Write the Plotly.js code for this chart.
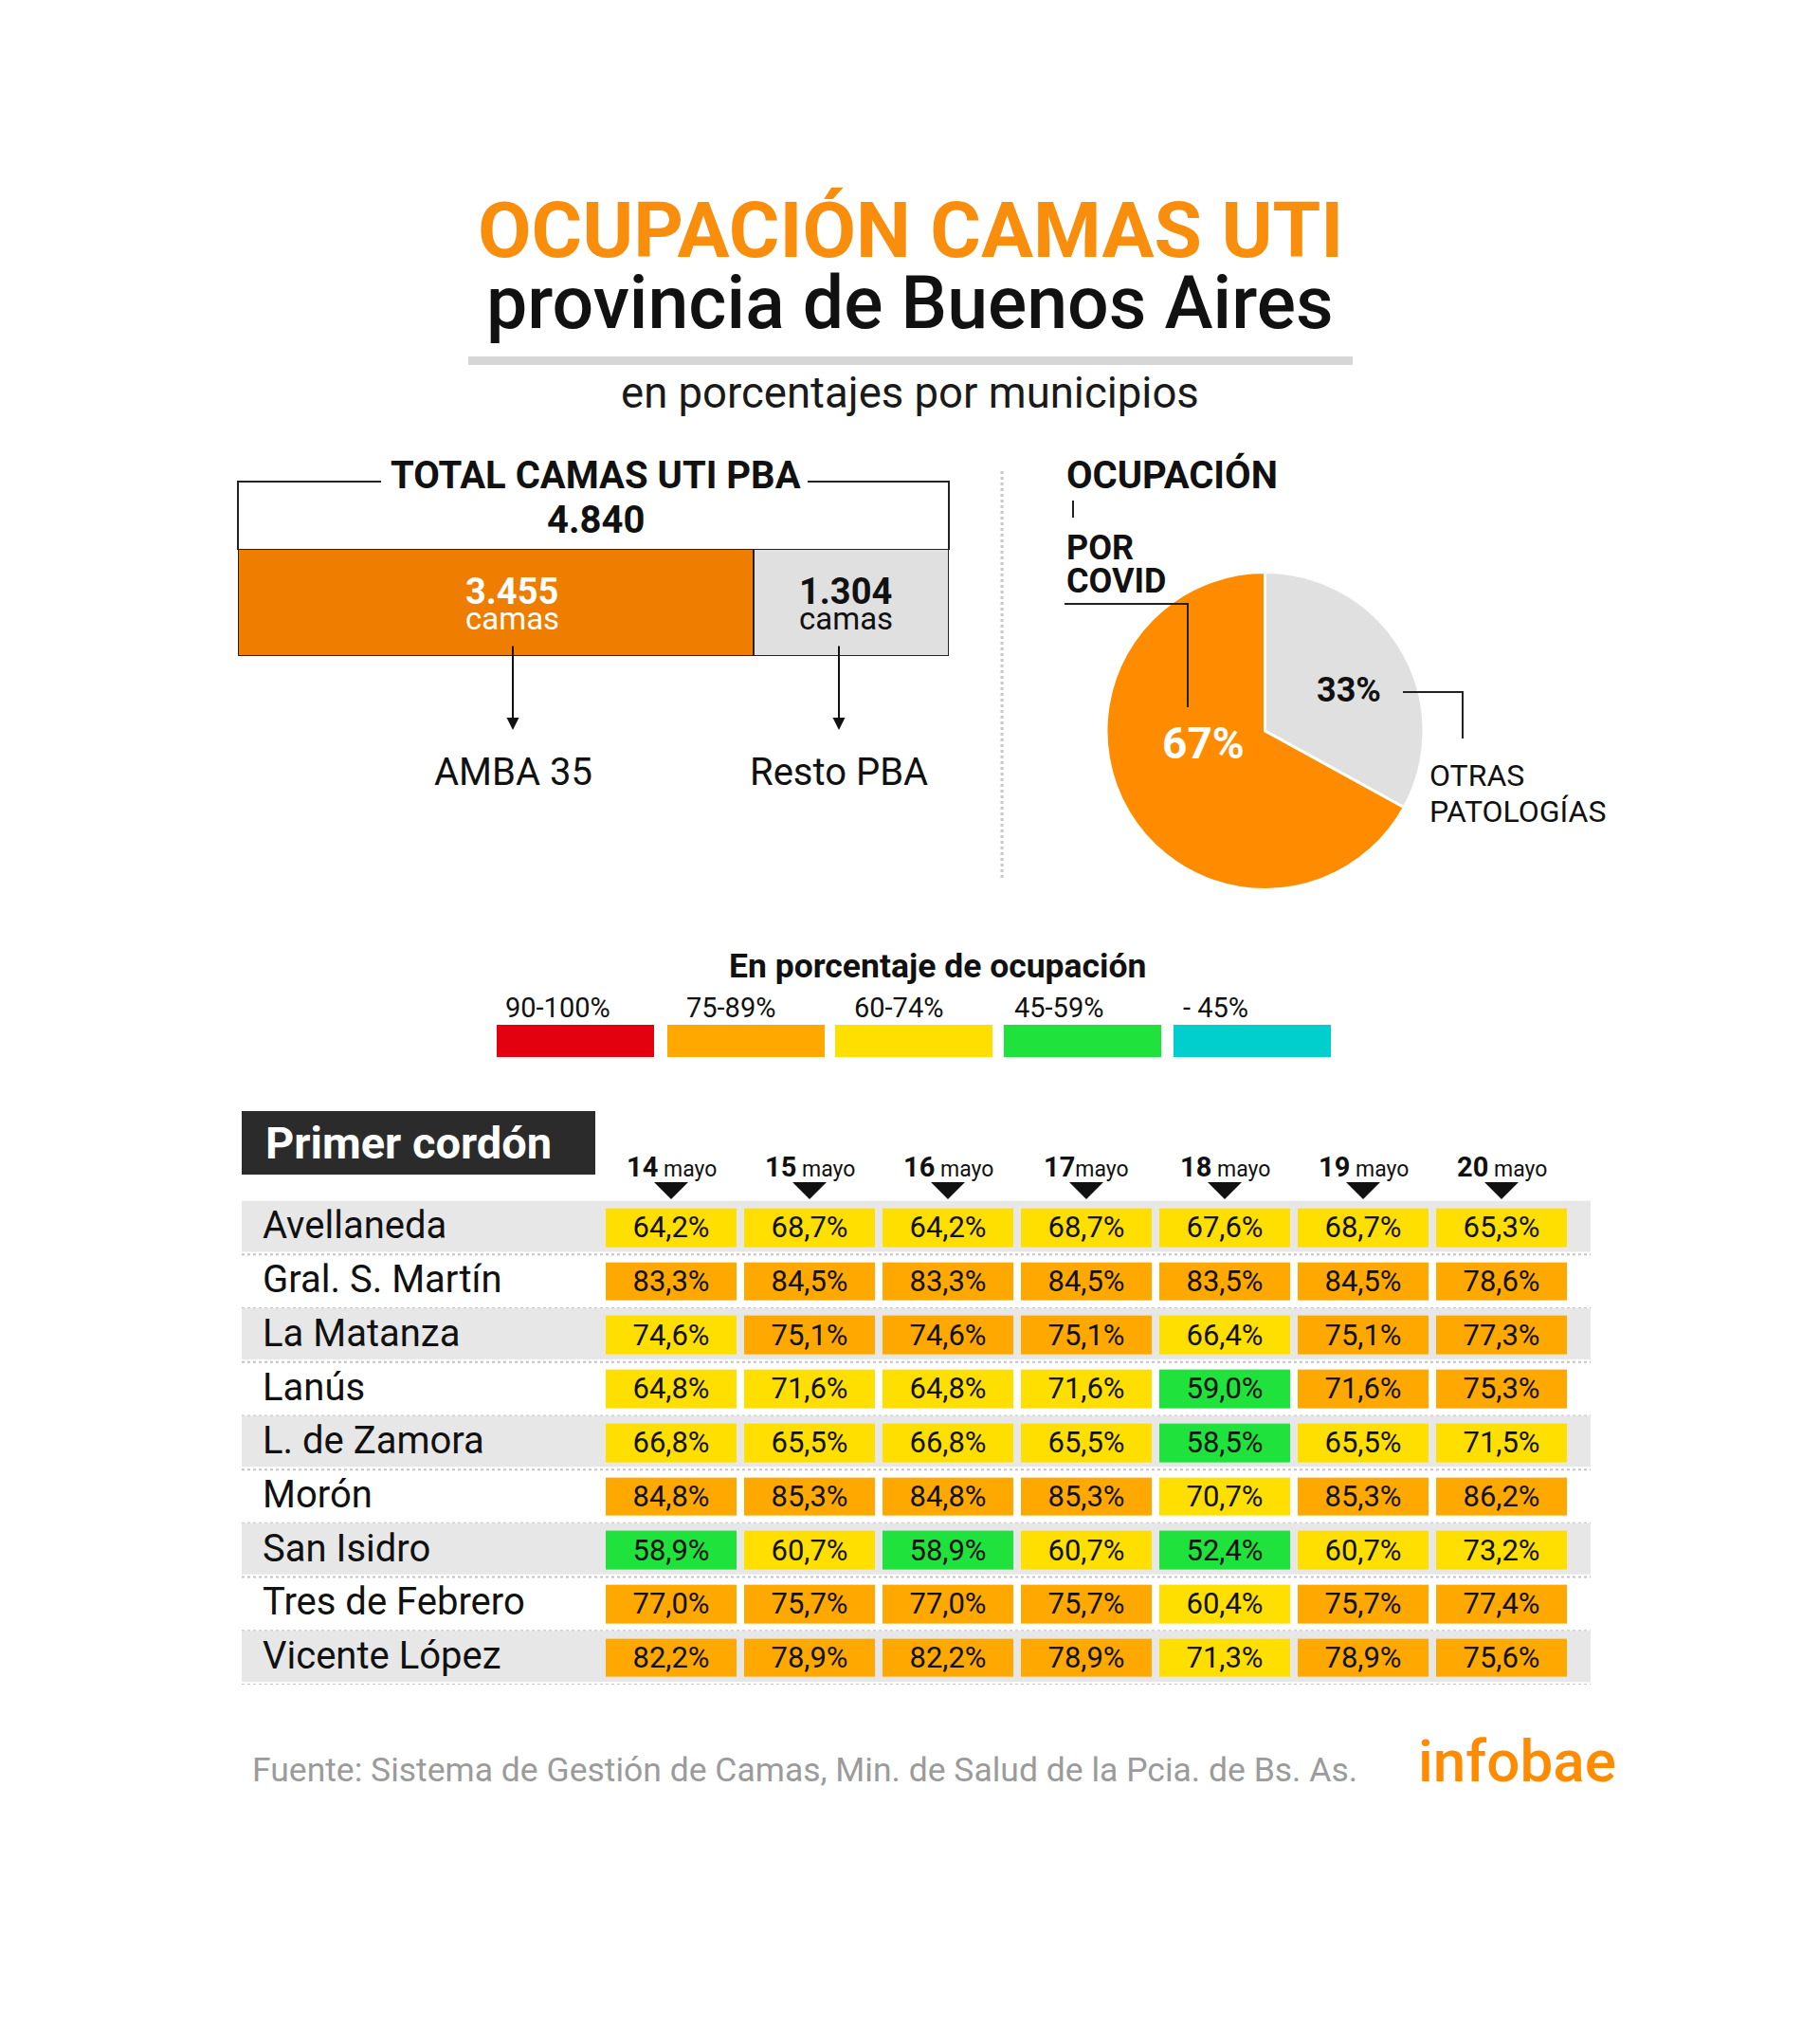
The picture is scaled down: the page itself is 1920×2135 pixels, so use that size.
<!DOCTYPE html>
<html>
<head>
<meta charset="utf-8">
<script src="https://cdn.plot.ly/plotly-3.0.1.min.js"></script>
<style>
  html, body { margin: 0; padding: 0; background: #ffffff; }
  #chart { width: 1920px; height: 2135px; }
</style>
</head>
<body>
<div id="chart"></div>
<script>
// ---------------- DATA ----------------
const titleLine1 = 'OCUPACIÓN CAMAS UTI';
const titleLine2 = 'provincia de Buenos Aires';
const subtitle = 'en porcentajes por municipios';

const totalBeds = 4840;
const barSegments = ['AMBA 35', 'Resto PBA'];
const barBeds = [3455, 1304];

const pieLabels = ['OTRAS PATOLOGÍAS', 'POR COVID'];
const pieValues = [33, 67];

const legendTitle = 'En porcentaje de ocupación';
const legendLabels = ['90-100%', '75-89%', '60-74%', '45-59%', '- 45%'];
const legendClasses = ['R', 'O', 'Y', 'G', 'C'];

const days = ['14 mayo', '15 mayo', '16 mayo', '17 mayo', '18 mayo', '19 mayo', '20 mayo'];
const dayNumbers = ['14', '15', '16', '17', '18', '19', '20'];
const dayWords = [' mayo', ' mayo', ' mayo', 'mayo', ' mayo', ' mayo', ' mayo'];

const municipios = ['Avellaneda', 'Gral. S. Martín', 'La Matanza', 'Lanús', 'L. de Zamora',
                    'Morón', 'San Isidro', 'Tres de Febrero', 'Vicente López'];
const avellaneda    = [64.2, 68.7, 64.2, 68.7, 67.6, 68.7, 65.3];
const gralSanMartin = [83.3, 84.5, 83.3, 84.5, 83.5, 84.5, 78.6];
const laMatanza     = [74.6, 75.1, 74.6, 75.1, 66.4, 75.1, 77.3];
const lanus         = [64.8, 71.6, 64.8, 71.6, 59.0, 71.6, 75.3];
const lomasZamora   = [66.8, 65.5, 66.8, 65.5, 58.5, 65.5, 71.5];
const moron         = [84.8, 85.3, 84.8, 85.3, 70.7, 85.3, 86.2];
const sanIsidro     = [58.9, 60.7, 58.9, 60.7, 52.4, 60.7, 73.2];
const tresFebrero   = [77.0, 75.7, 77.0, 75.7, 60.4, 75.7, 77.4];
const vicenteLopez  = [82.2, 78.9, 82.2, 78.9, 71.3, 78.9, 75.6];
// colour class of every cell as drawn in the source (C cyan, G green, Y yellow, O orange, R red)
const cellClasses = ['YYYYYYY', 'OOOOOOO', 'YOOOYOO', 'YYYYGOO', 'YYYYGYY',
                     'OOOOYOO', 'GYGYGYY', 'OOOOYOO', 'OOOOYOO'];

const tableTitle = 'Primer cordón';
const source = 'Fuente: Sistema de Gestión de Camas, Min. de Salud de la Pcia. de Bs. As.';
const brand = 'infobae';

// ---------------- STYLE / HELPERS ----------------
const W = 1920, H = 2135;
const px = x => x / W;
const py = y => 1 - y / H;
const FONT = 'Roboto, "Open Sans", sans-serif';
const classColor = { C: '#00CFCD', G: '#1FE23C', Y: '#FFDF00', O: '#FFA800', R: '#E3000F' };
const classLevel = { C: 0, G: 1, Y: 2, O: 3, R: 4 };

const fmtThousands = n => String(n).replace(/\B(?=(\d{3})+(?!\d))/g, '.');
const fmtPct = v => v.toFixed(1).replace('.', ',') + '%';

function T(text, x, base, size, o = {}) {
  return {
    xref: 'paper', yref: 'paper', x: px(x), y: py(base - 0.35 * size),
    xanchor: o.anchor || 'center', yanchor: 'middle', showarrow: false, text: text,
    font: { family: FONT, size: size, color: o.color || '#111', weight: o.weight || 400 }
  };
}
function P(points) { // polyline path in paper coords from pixel pairs
  return points.map((p, i) => (i ? 'L' : 'M') + px(p[0]) + ',' + py(p[1])).join(' ');
}

const rows = [avellaneda, gralSanMartin, laMatanza, lanus, lomasZamora, moron, sanIsidro, tresFebrero, vicenteLopez];

const annotations = [];
const shapes = [];

// Titles
annotations.push(T(titleLine1, 960, 272, 82, { color: '#F98D0C', weight: 700 }));
annotations.push(T(titleLine2, 960, 347, 77, { color: '#111', weight: 500 }));
shapes.push({ type: 'rect', xref: 'paper', yref: 'paper', x0: px(494), x1: px(1427), y0: py(385), y1: py(376),
  fillcolor: '#D6D6D6', line: { width: 0 } });
annotations.push(T(subtitle, 960, 430, 45.5, { color: '#1a1a1a' }));

// Total beds bracket
annotations.push(T('TOTAL CAMAS UTI PBA', 628, 515, 40, { weight: 700 }));
annotations.push(T(fmtThousands(totalBeds), 628, 562, 40, { weight: 700 }));
shapes.push({ type: 'path', xref: 'paper', yref: 'paper', path: P([[251, 580], [251, 508], [402, 508]]),
  line: { color: '#222', width: 2 } });
shapes.push({ type: 'path', xref: 'paper', yref: 'paper', path: P([[852, 508], [1001, 508], [1001, 580]]),
  line: { color: '#222', width: 2 } });

// Bar segment values (placed at each segment's midpoint on the bar's own axis)
const barTextColors = ['#ffffff', '#111111'];
const barTextShift = [17, -6];
let cum = 0;
barBeds.forEach((v, i) => {
  const mid = cum + v / 2; cum += v;
  annotations.push({ xref: 'x', yref: 'paper', x: mid, xshift: barTextShift[i], y: py(637 - 13), xanchor: 'center',
    yanchor: 'middle', showarrow: false, text: '<b>' + fmtThousands(v) + '</b>',
    font: { family: FONT, size: 38, color: barTextColors[i] } });
  annotations.push({ xref: 'x', yref: 'paper', x: mid, xshift: barTextShift[i], y: py(664 - 11.5), xanchor: 'center',
    yanchor: 'middle', showarrow: false, text: 'camas',
    font: { family: FONT, size: 33, color: barTextColors[i] } });
});

// Arrows + segment labels
[541, 885].forEach((x, i) => {
  annotations.push({ xref: 'paper', yref: 'paper', x: px(x), y: py(770), ax: 0, ay: -90,
    showarrow: true, arrowhead: 2, arrowsize: 1.3, arrowwidth: 2, arrowcolor: '#111', standoff: 0, text: '' });
  annotations.push(T(barSegments[i], x, 828, 40, { color: '#111' }));
});

// dotted separator
shapes.push({ type: 'line', xref: 'paper', yref: 'paper', x0: px(1057), x1: px(1057), y0: py(497), y1: py(926),
  line: { color: '#C8C8C8', width: 3, dash: 'dot' } });

// Pie labels
annotations.push(T('OCUPACIÓN', 1123, 515, 40, { anchor: 'left', weight: 700 }));
shapes.push({ type: 'line', xref: 'paper', yref: 'paper', x0: px(1132), x1: px(1132), y0: py(528), y1: py(546),
  line: { color: '#222', width: 2 } });
annotations.push(T('POR', 1123, 591, 36, { anchor: 'left', weight: 700 }));
annotations.push(T('COVID', 1123, 626, 36, { anchor: 'left', weight: 700 }));
shapes.push({ type: 'path', xref: 'paper', yref: 'paper', path: P([[1123, 637], [1253, 637], [1253, 746]]),
  line: { color: '#222', width: 2 } });
shapes.push({ type: 'path', xref: 'paper', yref: 'paper', path: P([[1480, 730], [1543, 730], [1543, 779]]),
  line: { color: '#222', width: 2 } });
annotations.push(T('OTRAS', 1506, 829, 32, { anchor: 'left' }));
annotations.push(T('PATOLOGÍAS', 1506, 867, 32, { anchor: 'left' }));
// pie percentages
const pieTextPos = [[1423, 741], [1269, 800]];
const pieTextSize = [36, 46];
const pieTextColor = ['#111111', '#ffffff'];
pieValues.forEach((v, i) => {
  annotations.push(T('<b>' + v + '%</b>', pieTextPos[i][0], pieTextPos[i][1], pieTextSize[i], { color: pieTextColor[i] }));
});

// Legend
annotations.push(T(legendTitle, 989, 1031, 35.5, { weight: 700 }));
const legBoxLeft = [524, 704, 881, 1059, 1238];
const legLabelLeft = [531, 722, 899, 1068, 1246];
legendLabels.forEach((lab, i) => {
  shapes.push({ type: 'rect', xref: 'paper', yref: 'paper', x0: px(legBoxLeft[i]), x1: px(legBoxLeft[i] + 166),
    y0: py(1115), y1: py(1081), fillcolor: classColor[legendClasses[i]], line: { width: 0 } });
  annotations.push(T(lab, legLabelLeft[i], 1073, 29, { anchor: 'left' }));
});

// Table title box
shapes.push({ type: 'rect', xref: 'paper', yref: 'paper', x0: px(255), x1: px(628), y0: py(1239), y1: py(1172),
  fillcolor: '#2B2B2B', line: { width: 0 } });
annotations.push(T(tableTitle, 278, 1222, 47, { anchor: 'left', color: '#ffffff', weight: 700 }));

// Column headers + triangles
days.forEach((d, i) => {
  annotations.push({ xref: 'x2', yref: 'paper', x: d, y: py(1231), xanchor: 'center', yanchor: 'middle',
    showarrow: false, text: '<b>' + dayNumbers[i] + '</b><span style="font-size:23px">' + dayWords[i] + '</span>',
    font: { family: FONT, size: 29, color: '#111' } });
  shapes.push({ type: 'path', xref: 'x2', yref: 'paper', xsizemode: 'pixel', xanchor: i,
    path: 'M-18,' + py(1247) + ' L18,' + py(1247) + ' L0,' + py(1265) + ' Z',
    fillcolor: '#111', line: { width: 0 } });
});

// Row bands, separators and labels
municipios.forEach((m, i) => {
  if (i % 2 === 0) {
    shapes.push({ type: 'rect', layer: 'below', xref: 'paper', yref: 'y2', x0: px(255), x1: px(1678),
      y0: i - 0.5, y1: i + 0.45, fillcolor: '#E7E7E7', line: { width: 0 } });
  }
  shapes.push({ type: 'line', layer: 'below', xref: 'paper', yref: 'y2', x0: px(255), x1: px(1678),
    y0: i + 0.5, y1: i + 0.5, line: { color: '#C4C4C4', width: 2, dash: 'dot' } });
  annotations.push({ xref: 'paper', yref: 'y2', x: px(275), y: m, xanchor: 'left', yanchor: 'middle',
    yshift: 2, showarrow: false, text: m, font: { family: FONT, size: 40, color: '#111' } });
});

// Source + brand
annotations.push(T(source, 264, 1879, 35.5, { anchor: 'left', color: '#9B9B9B' }));
annotations.push(T(brand, 1494, 1879, 62, { anchor: 'left', color: '#FF8C00', weight: 500 }));

// ---------------- TRACES ----------------
const barColors = ['#EF7D00', '#E0E0E0'];
const barTraces = barSegments.map((seg, i) => ({
  type: 'bar', orientation: 'h', x: [barBeds[i]], y: ['camas'], name: seg,
  xaxis: 'x', yaxis: 'y', width: 1,
  marker: { color: barColors[i], line: { color: '#222', width: 2 } },
  textinfo: 'none', hoverinfo: 'skip', showlegend: false
}));

const pieTrace = {
  type: 'pie', values: pieValues, labels: pieLabels, sort: false, direction: 'clockwise', rotation: 0,
  domain: { x: [px(1167), px(1502)], y: [py(938.5), py(603.5)] },
  marker: { colors: ['#E0E0E0', '#FF8C00'], line: { color: '#ffffff', width: 3 } },
  textinfo: 'none', showlegend: false, hoverinfo: 'skip'
};

const heatTrace = {
  type: 'heatmap', x: days, y: municipios, xaxis: 'x2', yaxis: 'y2',
  z: cellClasses.map(r => r.split('').map(c => classLevel[c])),
  text: rows.map(r => r.map(fmtPct)), texttemplate: '%{text}',
  textfont: { family: FONT, size: 31, color: '#111' },
  zmin: 0, zmax: 4, showscale: false, xgap: 8, ygap: 16, hoverinfo: 'skip',
  colorscale: [
    [0, classColor.C], [0.125, classColor.C], [0.125, classColor.G], [0.375, classColor.G],
    [0.375, classColor.Y], [0.625, classColor.Y], [0.625, classColor.O], [0.875, classColor.O],
    [0.875, classColor.R], [1, classColor.R]
  ]
};

const layout = {
  width: W, height: H, margin: { l: 0, r: 0, t: 0, b: 0 },
  paper_bgcolor: '#ffffff', plot_bgcolor: 'rgba(0,0,0,0)',
  barmode: 'stack', bargap: 0, separators: ',.',
  font: { family: FONT },
  xaxis: { domain: [px(251), px(1001)], range: [0, barBeds[0] + barBeds[1]], visible: false, fixedrange: true },
  yaxis: { domain: [py(692), py(579)], range: [-0.5, 0.5], visible: false, fixedrange: true },
  xaxis2: { domain: [px(635), px(1657)], type: 'category', range: [-0.5, 6.5], visible: false, anchor: 'y2' },
  yaxis2: { domain: [py(1777), py(1266.6)], type: 'category', range: [8.5, -0.5], visible: false, anchor: 'x2' },
  annotations: annotations, shapes: shapes, showlegend: false
};

Plotly.newPlot('chart', [...barTraces, pieTrace, heatTrace], layout, { displayModeBar: false, staticPlot: true });
</script>
</body>
</html>
